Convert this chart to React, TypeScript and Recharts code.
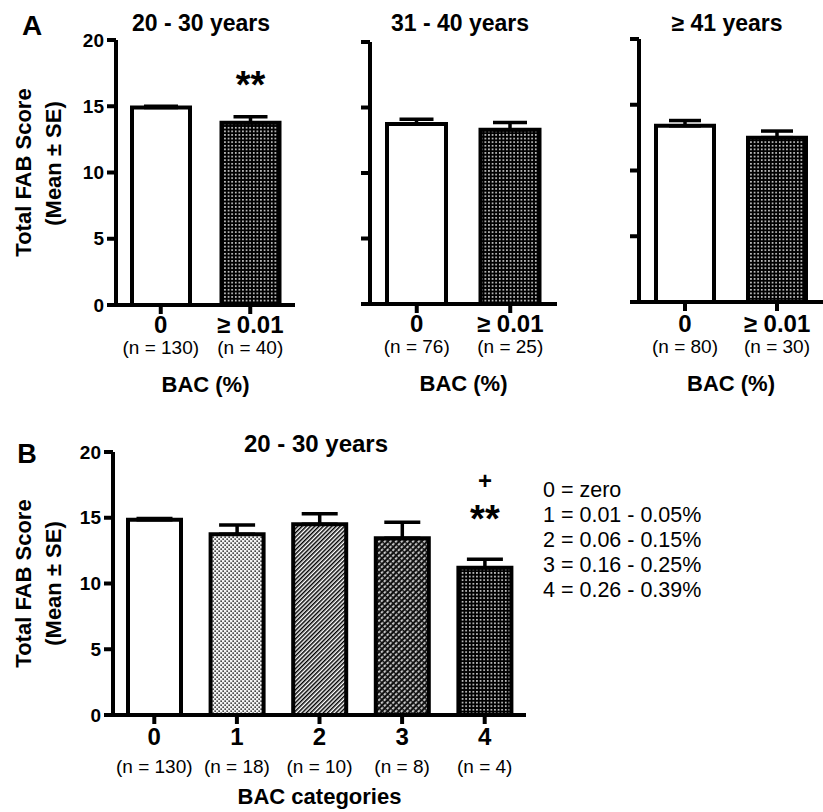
import React from "react";
import { BarChart, Bar, XAxis, YAxis, Cell, ErrorBar, LabelList, Label } from "recharts";

const FONT = '"Liberation Sans", Arial, Helvetica, sans-serif';
const INK = "#000";

// panel A: FAB score by BAC, one chart per age group
const ageGroups = ["20 - 30 years", "31 - 40 years", "≥ 41 years"];
const bacLevels = ["0", "≥ 0.01"];

const mean20to30 = [14.9, 13.75];
const se20to30 = [0.1, 0.45];
const n20to30 = [130, 40];
const sig20to30 = ["", "**"];

const mean31to40 = [13.75, 13.3];
const se31to40 = [0.35, 0.55];
const n31to40 = [76, 25];

const mean41up = [13.4, 12.5];
const se41up = [0.4, 0.5];
const n41up = [80, 30];

// panel B: 20 - 30 years split by BAC category
const bacCategories = ["0", "1", "2", "3", "4"];
const meanByCategory = [14.85, 13.75, 14.5, 13.45, 11.2];
const seByCategory = [0.1, 0.7, 0.8, 1.2, 0.65];
const nByCategory = [130, 18, 10, 8, 4];
const sigByCategory = ["", "", "", "", "**"];
const plusByCategory = ["", "", "", "", "+"];
const categoryKey = [
  "0 = zero",
  "1 = 0.01 - 0.05%",
  "2 = 0.06 - 0.15%",
  "3 = 0.16 - 0.25%",
  "4 = 0.26 - 0.39%",
];

const yTicks = [0, 5, 10, 15, 20];

const fillsA = ["#fff", "url(#dotsDark)"];
const fillsB = ["#fff", "url(#dotsLight)", "url(#stripes)", "url(#weave)", "url(#dotsDark)"];

function makeRows(cats: string[], means: number[], ses: number[], ns: number[], sig?: string[], plus?: string[]) {
  return cats.map((cat, i) => ({
    cat,
    mean: means[i],
    err: [0, ses[i]],
    n: ns[i],
    sig: sig ? sig[i] : "",
    plus: plus ? plus[i] : "",
  }));
}

const axisStyle = { stroke: INK, strokeWidth: 4 };
const noLabel = () => <g />;

function Panel(props: any) {
  const {
    rows, fills, left, top, width, height, margin, yAxisWidth, xAxisHeight,
    showYTicks, barSize, capHalf, xTitle, xTitleDy, catDy, nDy, yTitle, meanShift,
    sigDy, plusDy,
  } = props;

  const catTick = (p: any) => {
    const r = rows.find((d: any) => d.cat === p.payload.value) ?? rows[p.index];
    return (
      <g>
        <text x={p.x} y={p.y + catDy} textAnchor="middle" dominantBaseline="central"
          fontFamily={FONT} fontSize={24} fontWeight={700} fill={INK}>{r.cat}</text>
        <text x={p.x} y={p.y + nDy} textAnchor="middle" dominantBaseline="central"
          fontFamily={FONT} fontSize={19} fill={INK}>{`(n = ${r.n})`}</text>
      </g>
    );
  };

  const xTitleContent = (p: any) => {
    const vb = p.viewBox;
    return (
      <text x={vb.x + vb.width / 2} y={vb.y + xTitleDy} textAnchor="middle" dominantBaseline="central"
        fontFamily={FONT} fontSize={22} fontWeight={700} fill={INK}>{xTitle}</text>
    );
  };

  const yTitleContent = (p: any) => {
    const vb = p.viewBox;
    const cy = vb.y + vb.height / 2;
    return (
      <g fontFamily={FONT} fontSize={22} fontWeight={700} fill={INK}>
        <text x={23} y={cy} transform={`rotate(-90 23 ${cy})`} textAnchor="middle" dominantBaseline="central">Total FAB Score</text>
        <text x={53} y={cy + meanShift} transform={`rotate(-90 53 ${cy + meanShift})`} textAnchor="middle" dominantBaseline="central">(Mean ± SE)</text>
      </g>
    );
  };

  const markContent = (dy: number, size: number) => (p: any) => {
    if (!p.value) return null;
    return (
      <text x={p.x + p.width / 2} y={p.y + dy} textAnchor="middle"
        fontFamily={FONT} fontSize={size} fontWeight={700} fill={INK}>{p.value}</text>
    );
  };

  return (
    <div style={{ position: "absolute", left, top }}>
      <BarChart width={width} height={height} data={rows} margin={margin}>
        <XAxis dataKey="cat" height={xAxisHeight} axisLine={axisStyle} tickLine={axisStyle}
          tickSize={9} tickMargin={0} interval={0} tick={catTick}>
          <Label content={xTitleContent} />
        </XAxis>
        <YAxis domain={[0, 20]} ticks={yTicks} width={yAxisWidth} axisLine={axisStyle} tickLine={axisStyle}
          tickSize={9} tickMargin={3}
          tick={showYTicks ? { fill: INK, fontSize: 19, fontWeight: 700, fontFamily: FONT } : noLabel}>
          {yTitle ? <Label content={yTitleContent} /> : null}
        </YAxis>
        <Bar dataKey="mean" barSize={barSize} stroke={INK} strokeWidth={4} isAnimationActive={false}>
          {rows.map((_: any, i: number) => (
            <Cell key={i} fill={fills[i]} />
          ))}
          <ErrorBar dataKey="err" direction="y" width={capHalf} stroke={INK} strokeWidth={3.5} isAnimationActive={false} />
          <LabelList dataKey="sig" content={markContent(sigDy, 38)} />
          <LabelList dataKey="plus" content={markContent(plusDy, 24)} />
        </Bar>
      </BarChart>
    </div>
  );
}

export default function App() {
  const rowsA1 = makeRows(bacLevels, mean20to30, se20to30, n20to30, sig20to30);
  const rowsA2 = makeRows(bacLevels, mean31to40, se31to40, n31to40);
  const rowsA3 = makeRows(bacLevels, mean41up, se41up, n41up);
  const rowsB = makeRows(bacCategories, meanByCategory, seByCategory, nByCategory, sigByCategory, plusByCategory);

  return (
    <div style={{ position: "absolute", left: 0, top: 0, width: 823, height: 812, background: "#fff", fontFamily: FONT }}>
      <svg width={823} height={812} style={{ position: "absolute", left: 0, top: 0 }}>
        <defs>
          <pattern id="dotsDark" width="3.6" height="3.6" patternUnits="userSpaceOnUse">
            <rect width="3.6" height="3.6" fill="#000" />
            <rect x="1" y="1" width="1.5" height="1.5" fill="#fff" />
          </pattern>
          <pattern id="dotsLight" width="4" height="4" patternUnits="userSpaceOnUse">
            <rect width="4" height="4" fill="#f4f4f4" />
            <rect x="0.4" y="0.4" width="1.5" height="1.5" fill="#222" />
            <rect x="2.4" y="2.4" width="1.5" height="1.5" fill="#222" />
          </pattern>
          <pattern id="stripes" width="3" height="3" patternUnits="userSpaceOnUse" patternTransform="rotate(45)">
            <rect width="3" height="3" fill="#fff" />
            <rect width="1.5" height="3" fill="#000" />
          </pattern>
          <pattern id="weave" width="4" height="4" patternUnits="userSpaceOnUse" patternTransform="rotate(45)">
            <rect width="4" height="4" fill="#111" />
            <rect x="1.2" y="0.4" width="1.5" height="2.6" fill="#fff" />
          </pattern>
        </defs>
        <g fontFamily={FONT} fill={INK} fontWeight={700} dominantBaseline="central" textAnchor="middle">
          <text x={32} y={25} fontSize={28}>A</text>
          <text x={201} y={23} fontSize={23}>{ageGroups[0]}</text>
          <text x={460} y={23} fontSize={23}>{ageGroups[1]}</text>
          <text x={727} y={23} fontSize={23}>{ageGroups[2]}</text>
          <text x={27} y={454} fontSize={27}>B</text>
          <text x={316} y={443} fontSize={24}>{ageGroups[0]}</text>
        </g>
        <g fontFamily={FONT} fill={INK} fontSize={21.5} dominantBaseline="central">
          {categoryKey.map((line, i) => (
            <text key={line} x={543} y={490 + i * 25}>{line}</text>
          ))}
        </g>
      </svg>

      <Panel rows={rowsA1} fills={fillsA} left={0} top={0} width={300} height={400}
        margin={{ top: 40, right: 5, bottom: 35, left: 56 }} yAxisWidth={60} xAxisHeight={60}
        showYTicks yTitle meanShift={-9} barSize={58} capHalf={17}
        xTitle="BAC (%)" xTitleDy={79} catDy={10} nDy={33} sigDy={-25} plusDy={-60} />
      <Panel rows={rowsA2} fills={fillsA} left={300} top={0} width={260} height={400}
        margin={{ top: 42, right: 3, bottom: 36, left: 10 }} yAxisWidth={60} xAxisHeight={60}
        showYTicks={false} yTitle={false} meanShift={0} barSize={59} capHalf={17}
        xTitle="BAC (%)" xTitleDy={79} catDy={10} nDy={33} sigDy={-25} plusDy={-60} />
      <Panel rows={rowsA3} fills={fillsA} left={580} top={0} width={243} height={400}
        margin={{ top: 39, right: 0, bottom: 38, left: 9 }} yAxisWidth={50} xAxisHeight={60}
        showYTicks={false} yTitle={false} meanShift={0} barSize={58} capHalf={16}
        xTitle="BAC (%)" xTitleDy={81} catDy={12} nDy={35} sigDy={-25} plusDy={-60} />
      <Panel rows={rowsB} fills={fillsB} left={0} top={420} width={540} height={392}
        margin={{ top: 32, right: 14, bottom: 7, left: 53 }} yAxisWidth={60} xAxisHeight={90}
        showYTicks yTitle meanShift={0} barSize={53} capHalf={18}
        xTitle="BAC categories" xTitleDy={81} catDy={12} nDy={42} sigDy={-36} plusDy={-79} />
    </div>
  );
}
